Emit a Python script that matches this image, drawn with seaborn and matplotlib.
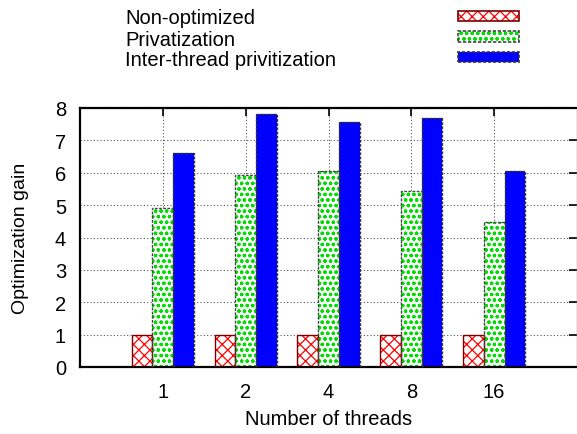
import matplotlib
matplotlib.use("Agg")
import matplotlib.pyplot as plt
from matplotlib.patches import Rectangle
import seaborn as sns
import pandas as pd

threads = ["1", "2", "4", "8", "16"]
series = ["Non-optimized", "Privatization", "Inter-thread privitization"]
non_optimized = [1.0, 1.0, 1.0, 1.0, 1.0]
privatization = [4.91, 5.93, 6.05, 5.44, 4.48]
inter_thread = [6.62, 7.80, 7.57, 7.69, 6.05]
yticks = [0, 1, 2, 3, 4, 5, 6, 7, 8]

sns.set_style("white")
plt.rcParams['font.family'] = ['Liberation Sans', 'DejaVu Sans']
plt.rcParams['hatch.linewidth'] = 0.9
plt.rcParams['text.color'] = 'black'
plt.rcParams['axes.labelcolor'] = 'black'
plt.rcParams['xtick.color'] = 'black'
plt.rcParams['ytick.color'] = 'black'

FS = 14.5

rows = []
for s, vals in zip(series, [non_optimized, privatization, inter_thread]):
    for t, v in zip(threads, vals):
        rows.append({"threads": t, "series": s, "gain": v})
df = pd.DataFrame(rows)

fig = plt.figure(figsize=(5.77, 4.35), dpi=100)
ax = fig.add_axes([80/577, 67/435, 497/577, 259/435])

styles = {
    "Non-optimized": dict(fc="white", hc="red", hatch="xxx", oc="#7a0000", ls="-"),
    "Privatization": dict(fc="white", hc="#00dd00", hatch="ooo", oc="#444444", ls=(0, (2, 1))),
    "Inter-thread privitization": dict(fc="#0000ff", hc="#0000ff", hatch=None, oc="#333333", ls=(0, (2, 1))),
}

sns.barplot(data=df, x="threads", y="gain", hue="series", order=threads,
            hue_order=series, width=0.75, ax=ax, legend=False,
            palette=["#ffffff", "#00dd00", "#0000ff"], saturation=1, zorder=2)

n = len(threads)
for i, s in enumerate(series):
    st = styles[s]
    for p in ax.patches[i*n:(i+1)*n]:
        p.set_facecolor(st["fc"])
        p.set_edgecolor(st["hc"])
        p.set_linewidth(0)
        if st["hatch"]:
            p.set_hatch(st["hatch"])
        ax.add_patch(Rectangle(p.get_xy(), p.get_width(), p.get_height(),
                               fill=False, ec=st["oc"], lw=1.0, ls=st["ls"], zorder=3))

ax.set_xlim(-1, 5)
ax.set_ylim(0, 8)
ax.set_yticks(yticks)
ax.set_xlabel("Number of threads", fontsize=FS)
ax.set_ylabel("Optimization gain", fontsize=14)
ax.xaxis.set_label_coords(0.5, -0.163)
ax.yaxis.set_label_coords(-0.102, 0.5)
ax.tick_params(axis="both", which="major", direction="in", length=6, width=1.2,
               top=True, right=True, labelsize=FS, color="black", labelcolor="black")
ax.tick_params(axis="x", pad=10.5)
ax.tick_params(axis="y", pad=10)
ax.grid(True, which="major", color="#555555", linestyle=(0, (1, 2)), linewidth=0.8, zorder=0)
ax.set_axisbelow(True)
for side in ["left", "bottom", "top"]:
    ax.spines[side].set_linewidth(1.6)
    ax.spines[side].set_color("black")
ax.spines["right"].set_linewidth(1.0)
ax.spines["right"].set_color("#888888")

# legend (top, outside axes)
H = 435
labels_y = [24, 45.5, 66]
rect_y = [11.7, 32.3, 52.7]
for s, by, ry in zip(series, labels_y, rect_y):
    st = styles[s]
    fig.text(125/577, 1 - by/H, s, fontsize=FS, ha="left", va="baseline", color="black")
    r = Rectangle((458/577, 1 - (ry + 10.5)/H), 61/577, 10.5/H, transform=fig.transFigure,
                  fc=st["fc"], ec=st["hc"], lw=0, hatch=st["hatch"])
    fig.add_artist(r)
    fig.add_artist(Rectangle((458/577, 1 - (ry + 10.5)/H), 61/577, 10.5/H, transform=fig.transFigure,
                             fill=False, ec=st["oc"], lw=1.2, ls=st["ls"]))

fig.savefig("out.png", dpi=100)
